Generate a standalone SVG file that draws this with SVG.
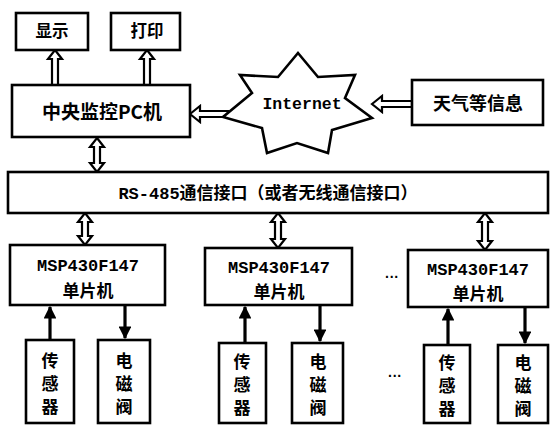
<svg xmlns="http://www.w3.org/2000/svg" width="553" height="428" viewBox="0 0 553 428">
<style>
.box{fill:#fff;stroke:#000;stroke-width:2.6}
.ha{fill:#fff;stroke:#000;stroke-width:2.2;stroke-linejoin:miter}
.sa{stroke:#000;stroke-width:3.2;fill:none}
.cjk{font-family:"Noto Sans CJK SC","Noto Sans CJK JP",sans-serif;font-weight:bold;fill:#000}
.mono{font-family:"Liberation Mono","DejaVu Sans Mono",monospace;font-weight:bold;fill:#000}
.dots{font-family:"Liberation Sans",sans-serif;font-weight:bold;font-size:14px;fill:#000}
.v{font-size:17px;text-anchor:middle}
</style>
<defs>
<marker id="tri" viewBox="0 0 10 10" refX="9" refY="5" markerWidth="4" markerHeight="4" orient="auto" markerUnits="strokeWidth">
<path d="M0,0 L10,5 L0,10 z" fill="#000"/>
</marker>
</defs>
<rect width="553" height="428" fill="#fff"/>
<g id="connectors">
<polygon class="ha" points="55,50 62,59 58,59 58,85 52,85 52,59 48,59"/>
<polygon class="ha" points="147,50 154,59 150,59 150,85 144,85 144,59 140,59"/>
<polygon class="ha" points="190,114 200,106 200,111 228,111 228,117 200,117 200,122"/>
<polygon class="ha" points="372,104 382,96 382,101 412,101 412,107 382,107 382,112"/>
<polygon class="ha" points="97,138 104,147 100,147 100,163 104,163 97,172 90,163 94,163 94,147 90,147"/>
<polygon class="ha" points="85,213 92,222 88,222 88,236 92,236 85,245 78,236 82,236 82,222 78,222"/>
<polygon class="ha" points="278,213 285,222 281,222 281,239 285,239 278,248 271,239 275,239 275,222 271,222"/>
<polygon class="ha" points="485,213 492,222 488,222 488,241 492,241 485,250 478,241 482,241 482,222 478,222"/>
<line class="sa" x1="50" y1="340" x2="50" y2="307" marker-end="url(#tri)"/>
<line class="sa" x1="125" y1="305" x2="125" y2="338" marker-end="url(#tri)"/>
<line class="sa" x1="245" y1="343" x2="245" y2="307" marker-end="url(#tri)"/>
<line class="sa" x1="320" y1="305" x2="320" y2="341" marker-end="url(#tri)"/>
<line class="sa" x1="448" y1="345" x2="448" y2="309" marker-end="url(#tri)"/>
<line class="sa" x1="525" y1="307" x2="525" y2="343" marker-end="url(#tri)"/>
</g>
<g id="display"><rect class="box" x="16" y="13" width="72" height="37"/><text class="cjk" x="52" y="37" font-size="16.5" text-anchor="middle">显示</text></g>
<g id="print"><rect class="box" x="111" y="13" width="69" height="37"/><text class="cjk" x="147" y="37" font-size="16.5" text-anchor="middle">打印</text></g>
<g id="pc"><rect class="box" x="12" y="85" width="178" height="52"/><text class="cjk" x="102" y="119" font-size="19" text-anchor="middle">中央监控PC机</text></g>
<g id="internet"><polygon class="box" stroke-width="2.2" points="298,53 318,77 355,75 345,98 372,118 332,130 328,153 297,143 267,153 262,128 223,117 252,93 240,75 278,77"/><text class="mono" x="302" y="109" font-size="16.5" text-anchor="middle" font-weight="normal">Internet</text></g>
<g id="weather"><rect class="box" x="412" y="80" width="131" height="45"/><text class="cjk" x="478" y="110" font-size="18" text-anchor="middle">天气等信息</text></g>
<g id="rs485"><rect class="box" x="8" y="172" width="540" height="41"/><text x="268" y="199" font-size="17" text-anchor="middle"><tspan class="mono">RS-485</tspan><tspan class="cjk">通信接口（或者无线通信接口）</tspan></text></g>
<g id="mcu1"><rect class="box" x="10" y="245" width="155" height="60"/><text class="mono" x="88" y="271" font-size="17" text-anchor="middle">MSP430F147</text><text class="cjk" x="88" y="297" font-size="17" text-anchor="middle">单片机</text></g>
<g id="mcu2"><rect class="box" x="205" y="248" width="147" height="57"/><text class="mono" x="279" y="273" font-size="17" text-anchor="middle">MSP430F147</text><text class="cjk" x="279" y="298" font-size="17" text-anchor="middle">单片机</text></g>
<g id="mcu3"><rect class="box" x="408" y="250" width="140" height="57"/><text class="mono" x="478" y="275" font-size="17" text-anchor="middle">MSP430F147</text><text class="cjk" x="478" y="300" font-size="17" text-anchor="middle">单片机</text></g>
<g id="sensor1"><rect class="box" x="26" y="340" width="48" height="83"/><text class="cjk v" x="50" y="367">传</text><text class="cjk v" x="50" y="390">感</text><text class="cjk v" x="50" y="413">器</text></g>
<g id="valve1"><rect class="box" x="98" y="340" width="52" height="83"/><text class="cjk v" x="124" y="367">电</text><text class="cjk v" x="124" y="390">磁</text><text class="cjk v" x="124" y="413">阀</text></g>
<g id="sensor2"><rect class="box" x="219" y="343" width="47" height="80"/><text class="cjk v" x="242" y="368">传</text><text class="cjk v" x="242" y="391">感</text><text class="cjk v" x="242" y="414">器</text></g>
<g id="valve2"><rect class="box" x="292" y="343" width="51" height="80"/><text class="cjk v" x="318" y="368">电</text><text class="cjk v" x="318" y="391">磁</text><text class="cjk v" x="318" y="414">阀</text></g>
<g id="sensor3"><rect class="box" x="424" y="345" width="46" height="78"/><text class="cjk v" x="447" y="369">传</text><text class="cjk v" x="447" y="392">感</text><text class="cjk v" x="447" y="415">器</text></g>
<g id="valve3"><rect class="box" x="498" y="345" width="50" height="78"/><text class="cjk v" x="523" y="369">电</text><text class="cjk v" x="523" y="392">磁</text><text class="cjk v" x="523" y="415">阀</text></g>
<text class="dots" x="385" y="282">···</text>
<text class="dots" x="388" y="381">···</text>
</svg>
